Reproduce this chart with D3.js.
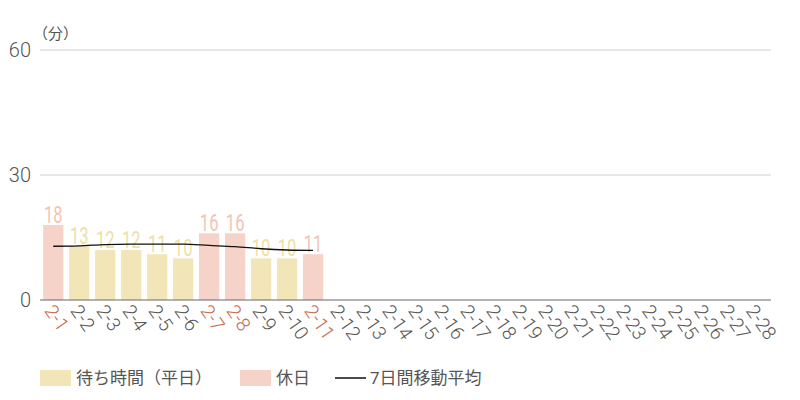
<!DOCTYPE html>
<html>
<head>
<meta charset="utf-8">
<script src="https://cdn.jsdelivr.net/npm/d3@7"></script>
<style>
  body { margin: 0; background: #fff; }
  svg text { font-family: Roboto, "Noto Sans CJK JP", sans-serif; }
</style>
</head>
<body>
<svg width="800" height="400"></svg>
<script>
// data
const days = d3.range(1, 29).map(d => `2-${d}`);
const waitValues = [18, 13, 12, 12, 11, 10, 16, 16, 10, 10, 11];
const holidays = ["2-1", "2-7", "2-8", "2-11"];
const movingAvg = [12.9, 13.0, 13.3, 13.4, 13.4, 13.4, 13.1, 12.8, 12.3, 12.0, 11.9];
const yTicks = [0, 30, 60];
const legendItems = ["待ち時間（平日）", "休日", "7日間移動平均"];

const colors = {
  weekday: "#f2e6b9",
  holiday: "#f6d3c8",
  weekdayText: "#eedfa6",
  holidayText: "#f0c5b5",
  holidayTick: "#c8694c",
  tick: "#555"
};

const svg = d3.select("svg");
const margin = { left: 40 };

const x = d3.scaleBand()
  .domain(days)
  .range([margin.left, 768])
  .paddingInner(0.22)
  .paddingOuter(0.12);

const y = d3.scaleLinear()
  .domain([0, 60])
  .range([300, 50]);

// gridlines
svg.append("g")
  .selectAll("line")
  .data(yTicks.filter(d => d > 0))
  .join("line")
  .attr("x1", margin.left)
  .attr("x2", 771)
  .attr("y1", d => y(d))
  .attr("y2", d => y(d))
  .attr("stroke", "#cfcfcf")
  .attr("stroke-width", 1);

// y tick labels
svg.append("g")
  .selectAll("text")
  .data(yTicks)
  .join("text")
  .attr("x", 31)
  .attr("y", d => y(d))
  .attr("dy", "0.35em")
  .attr("text-anchor", "end")
  .attr("font-size", 20)
  .attr("font-weight", 300)
  .attr("fill", colors.tick)
  .text(d => d);

// unit
svg.append("text")
  .attr("x", 33)
  .attr("y", 39)
  .attr("font-size", 15)
  .attr("fill", colors.tick)
  .text("（分）");

// bars
const barData = waitValues.map((v, i) => ({ day: days[i], value: v, holiday: holidays.includes(days[i]) }));

svg.append("g")
  .selectAll("rect")
  .data(barData)
  .join("rect")
  .attr("x", d => x(d.day))
  .attr("y", d => y(d.value))
  .attr("width", x.bandwidth())
  .attr("height", d => y(0) - y(d.value))
  .attr("fill", d => d.holiday ? colors.holiday : colors.weekday);

// value labels (condensed by horizontal scale)
svg.append("g")
  .selectAll("text")
  .data(barData)
  .join("text")
  .attr("transform", d => `translate(${x(d.day) + x.bandwidth() / 2},${y(d.value) - 2}) scale(0.72,1)`)
  .attr("text-anchor", "middle")
  .attr("font-size", 23)
  .attr("fill", d => d.holiday ? colors.holidayText : colors.weekdayText)
  .text(d => d.value);

// moving average line
const line = d3.line()
  .x((d, i) => x(days[i]) + x.bandwidth() / 2)
  .y(d => y(d))
  .curve(d3.curveMonotoneX);

svg.append("path")
  .datum(movingAvg)
  .attr("d", line)
  .attr("fill", "none")
  .attr("stroke", "#111")
  .attr("stroke-width", 1.3);

// x axis
svg.append("line")
  .attr("x1", margin.left)
  .attr("x2", 771)
  .attr("y1", y(0))
  .attr("y2", y(0))
  .attr("stroke", "#666")
  .attr("stroke-width", 1);

svg.append("g")
  .selectAll("text")
  .data(days)
  .join("text")
  .attr("transform", d => `translate(${x(d) + x.bandwidth() / 2 - 4},${307}) rotate(55)`)
  .attr("dy", "0.35em")
  .attr("font-size", 19)
  .attr("font-weight", 300)
  .attr("fill", d => holidays.includes(d) ? colors.holidayTick : colors.tick)
  .text(d => d);

// legend
const legend = svg.append("g").attr("font-size", 17).attr("fill", colors.tick);
legend.append("rect").attr("x", 40).attr("y", 370).attr("width", 31).attr("height", 16).attr("fill", colors.weekday);
legend.append("text").attr("x", 76).attr("y", 378).attr("dy", "0.35em").text(legendItems[0]);
legend.append("rect").attr("x", 240).attr("y", 370).attr("width", 31).attr("height", 16).attr("fill", colors.holiday);
legend.append("text").attr("x", 276).attr("y", 378).attr("dy", "0.35em").text(legendItems[1]);
legend.append("line").attr("x1", 335).attr("x2", 366).attr("y1", 378).attr("y2", 378).attr("stroke", "#111").attr("stroke-width", 1.5);
legend.append("text").attr("x", 370).attr("y", 378).attr("dy", "0.35em").text(legendItems[2]);
</script>
</body>
</html>
